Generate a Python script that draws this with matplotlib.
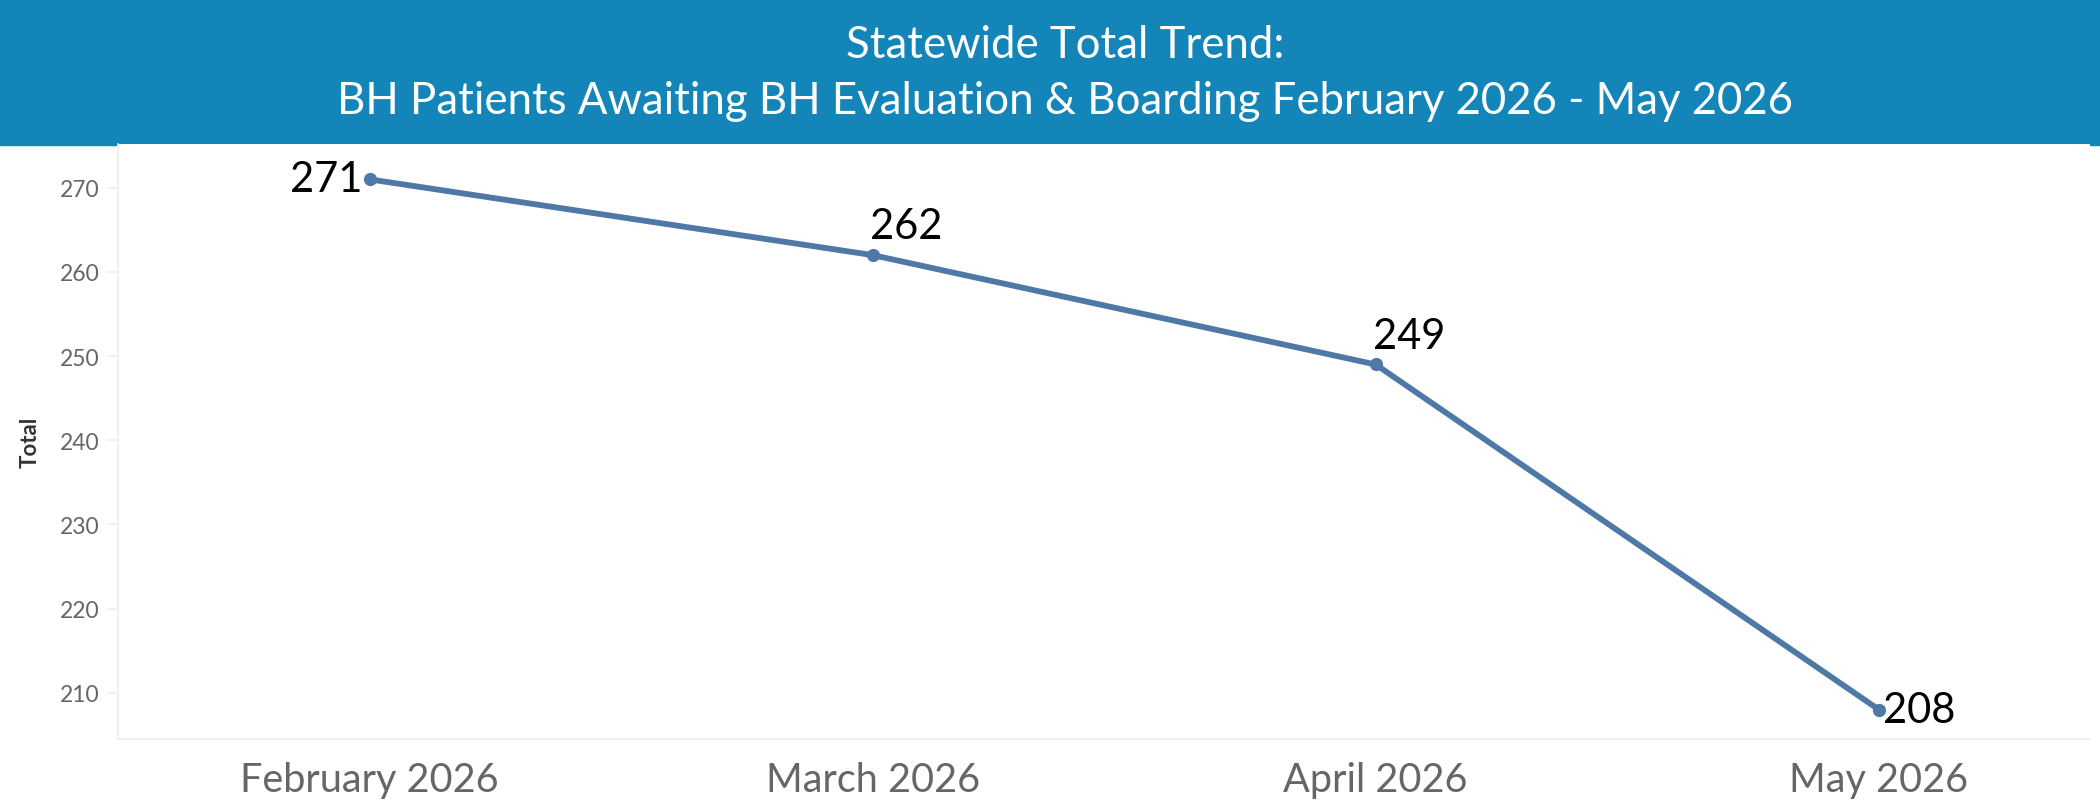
import matplotlib
matplotlib.use("Agg")
import matplotlib.pyplot as plt
from matplotlib.patches import Rectangle

# ------------------------- data -------------------------
months = ["February 2026", "March 2026", "April 2026", "May 2026"]
totals = [271, 262, 249, 208]
yticks = [210, 220, 230, 240, 250, 260, 270]

title_lines = ["Statewide Total Trend:",
               "BH Patients Awaiting BH Evaluation & Boarding February 2026 - May 2026"]

LINE_COLOR = "#4E79A7"
BANNER_COLOR = "#1485B8"
GREY = "#666666"

plt.rcParams['font.family'] = ['Lato', 'DejaVu Sans']

W, H = 2100, 804
fig = plt.figure(figsize=(W / 100, H / 100), dpi=100)

# title banner across the top
banner_h = 146 / H
fig.add_artist(Rectangle((0, 1 - banner_h), 1, banner_h, transform=fig.transFigure,
                         color=BANNER_COLOR, zorder=0))
fig.text(0.507, 1 - 45 / H, title_lines[0], color="white", fontsize=31.5,
         ha="center", va="center")
fig.text(0.507, 1 - 102 / H, title_lines[1], color="white", fontsize=31.5,
         ha="center", va="center")

ax = fig.add_axes([118 / W, 64 / H, (2090 - 118) / W, (740 - 145) / H])
x = list(range(len(months)))
ax.plot(x, totals, color=LINE_COLOR, lw=4.2, marker="o", ms=8.5,
        solid_capstyle="round", zorder=3)

ax.set_xlim(-0.5, 3.42)
ax.set_ylim(204.5, 275.2)
ax.set_xticks(x)
ax.set_xticklabels(months, fontsize=28.5, color=GREY)
ax.set_yticks(yticks)
ax.set_yticklabels([str(v) for v in yticks], fontsize=16.5, color=GREY)
ax.tick_params(axis="x", length=0, pad=16)
ax.tick_params(axis="y", length=7, width=1.2, color="#eeeeee", pad=6)
ax.set_ylabel("Total", fontsize=16, fontweight="bold", color="#333333", labelpad=14)

for side in ("top", "right"):
    ax.spines[side].set_visible(False)
for side in ("left", "bottom"):
    ax.spines[side].set_color("#eeeeee")
    ax.spines[side].set_linewidth(1.2)

# value labels
lbl = dict(fontsize=30, color="black")
ax.annotate(str(totals[0]), (x[0], totals[0]), xytext=(-5, 0),
            textcoords="offset points", ha="right", va="center", **lbl)
ax.annotate(str(totals[1]), (x[1], totals[1]), xytext=(-2, 7),
            textcoords="offset points", ha="left", va="bottom", **lbl)
ax.annotate(str(totals[2]), (x[2], totals[2]), xytext=(-2, 7),
            textcoords="offset points", ha="left", va="bottom", **lbl)
ax.annotate(str(totals[3]), (x[3], totals[3]), xytext=(3, 0),
            textcoords="offset points", ha="left", va="center", **lbl)

fig.savefig("out.png", dpi=100)
